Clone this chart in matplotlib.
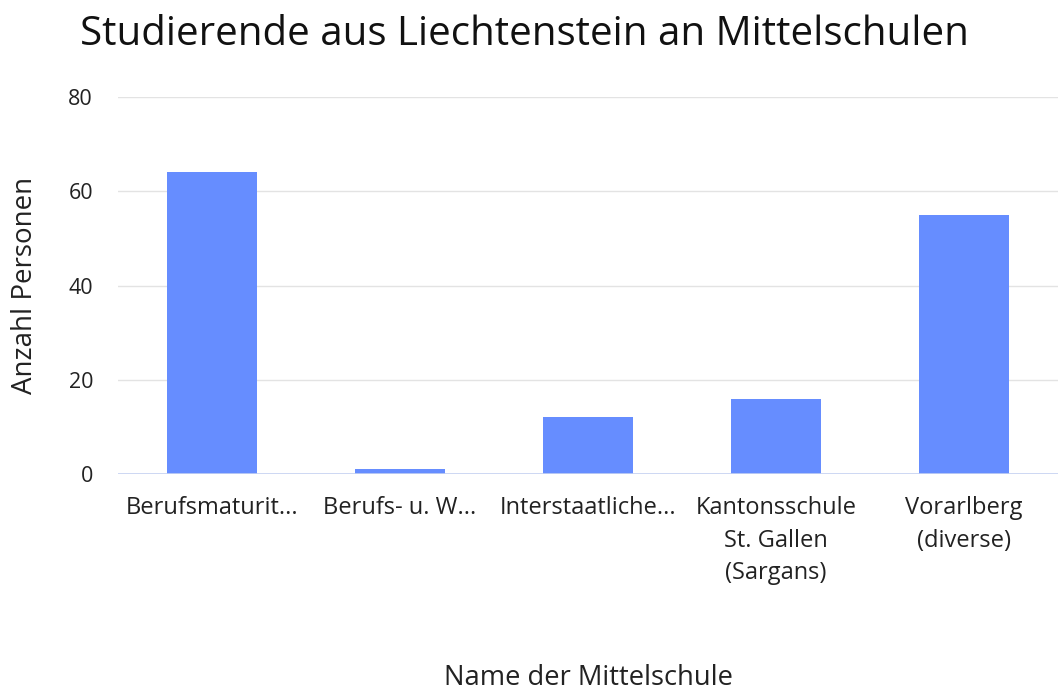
import matplotlib
matplotlib.use("Agg")
import matplotlib.pyplot as plt

# data
schulen = ["Berufsmaturit...", "Berufs- u. W...", "Interstaatliche...",
           "Kantonsschule\nSt. Gallen\n(Sargans)", "Vorarlberg\n(diverse)"]
personen = [64, 1, 12, 16, 55]
yticks = [0, 20, 40, 60, 80]

plt.rcParams.update({
    "font.family": ["Open Sans", "DejaVu Sans"],
    "font.size": 14,
})

bar_color = "#668dff"
grid_color = "#e3e3e3"
text_color = "#222222"

fig = plt.figure(figsize=(10.59, 6.91), dpi=100)
ax = fig.add_axes([118 / 1059, 1 - 474 / 691, (1058 - 118) / 1059, (474 - 97) / 691])

x = range(len(schulen))
ax.bar(x, personen, width=0.475, color=bar_color, zorder=3)

ax.set_xlim(-0.5, len(schulen) - 0.5)
ax.set_ylim(0, 80)
ax.set_yticks(yticks)
ax.set_xticks(list(x))
ax.set_xticklabels(schulen, fontsize=17, color=text_color, linespacing=1.46)
ax.tick_params(axis="y", labelsize=15.5, colors=text_color, length=0, pad=18)
ax.tick_params(axis="x", length=0, pad=16)

ax.grid(axis="y", color=grid_color, linewidth=1, zorder=0)
ax.axhline(0, color="#c6d2f2", linewidth=1.2, zorder=4)
for s in ax.spines.values():
    s.set_visible(False)

ax.set_ylabel("Anzahl Personen", fontsize=20, color=text_color, labelpad=21)
fig.text((118 + 1058) / 2 / 1059, 1 - 678 / 691, "Name der Mittelschule",
         ha="center", va="center", fontsize=19.7, color=text_color)
fig.text(80 / 1059, 1 - 35 / 691, "Studierende aus Liechtenstein an Mittelschulen",
         ha="left", va="center", fontsize=29, color="#111111")

fig.savefig("out.png", dpi=100)
